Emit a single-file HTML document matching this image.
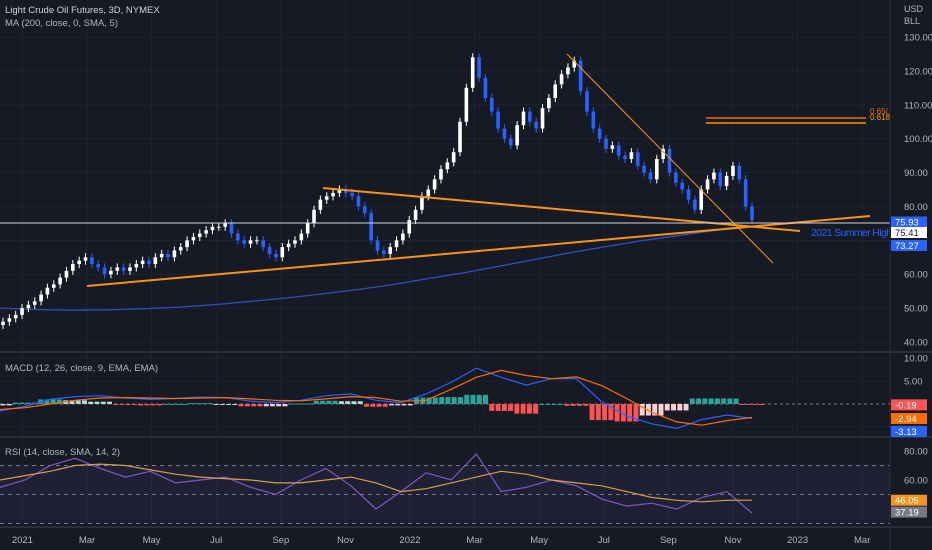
<!DOCTYPE html>
<html><head><meta charset="utf-8">
<style>
html,body{margin:0;padding:0;background:#161a25;}
svg{display:block;font-family:"Liberation Sans",sans-serif;}
</style></head>
<body>
<svg id="c" width="932" height="550" xmlns="http://www.w3.org/2000/svg">
<rect x="0" y="0" width="932" height="550" fill="#161a25"/>
<g id="grid"></g>
<g id="main"></g>
<g id="macd"></g>
<g id="rsi"></g>
<g id="axes"></g>
</svg>
<script>
const closes=[46,47,48,50,51,52,54,56,57,59,
61,63,64,65,63,62,60,61,62,61,
62,63,64,63,65,66,65,67,68,70,
71,72,73,74,74,75,72,70,69,70,
70,68,66,65,68,69,70,72,75,79,
82,83,84,85,84,83,80,78,70,67,
66,68,70,72,76,79,83,85,88,91,
93,96,105,115,124,118,112,108,103,100,
98,104,108,105,103,109,112,116,119,121,
123,114,108,103,100,97,98,95,94,96,
92,90,88,94,97,90,87,85,82,79,
85,88,90,86,89,92,88,80,75.9];
const maVals=[50,49.6,49.4,49.5,49.8,50.3,51,52,53,54.2,55.5,57,58.8,60.5,62.5,64.5,66.5,68.3,70,71.5,73,74];
const macdVals=[-1.5,-0.5,1.0,1.6,1.8,1.3,1.0,1.2,1.5,1.4,0.6,0.3,0.8,1.8,2.2,0.8,0.3,2.2,4.7,7.8,5.8,4.1,5.5,5.5,0.5,-2.6,-4.3,-5.3,-3.4,-2.4,-3.13];
const signalVals=[-1.2,-0.8,0,0.8,1.3,1.4,1.3,1.2,1.3,1.4,1.1,0.8,0.7,1.1,1.6,1.4,0.6,0.8,3.2,5.8,7.3,6.2,5.5,5.9,4.0,1.2,-1.8,-3.9,-4.6,-3.6,-2.94];
const rsiVals=[55,60,70,75,68,62,66,58,60,62,55,50,60,68,56,40,52,65,60,78,52,55,60,56,47,42,44,40,48,52,37.19];
const rsiMaVals=[60,63,66,70,71,70,67,64,62,61,60,58,58,60,62,58,52,54,58,62,66,64,60,58,56,52,48,46,45,46,46.05];
const priceTicks=[130,120,110,100,90,80,60,50,40];
const macdTicks=[10,5];
const rsiTicks=[80,60];
const timeLabels=["2021","Mar","May","Jul","Sep","Nov","2022","Mar","May","Jul","Sep","Nov","2023","Mar"];
const timeMonths=[0,2,4,6,8,10,12,14,16,18,20,22,24,26];

const NS="http://www.w3.org/2000/svg";
function mk(tag,attrs,parent,txt){const e=document.createElementNS(NS,tag);for(const k in attrs)e.setAttribute(k,attrs[k]);if(txt!==undefined)e.textContent=txt;parent.appendChild(e);return e;}
const G=id=>document.getElementById(id);
const PLOT_R=890;
const py=p=>37+(130-p)*3.389;
const cx=i=>3+i*(749/(closes.length-1));
const sx=(i,n)=>i*(752/(n-1));
const my=v=>404-v*4.6;
const ry=v=>451+(80-v)*1.45;
const tx=m=>87+(m-2)*32.3;

// grid
const grid=G('grid');
timeMonths.forEach(m=>{const l=mk('line',{x1:tx(m),x2:tx(m),y1:0,y2:527,stroke:'#1f2330','stroke-width':1},grid);
});
priceTicks.concat([70]).forEach(p=>{const l=mk('line',{x1:0,x2:PLOT_R,y1:py(p),y2:py(p),stroke:'#1f2330'},grid);
});
[10,5,-5].forEach(v=>{const l=mk('line',{x1:0,x2:PLOT_R,y1:my(v),y2:my(v),stroke:'#1f2330'},grid);
});

// main pane
const main=G('main');
let d='';maVals.forEach((v,i)=>{d+=(i?'L':'M')+sx(i,maVals.length).toFixed(1)+','+py(v).toFixed(1);});
const ma=mk('path',{d:d,fill:'none',stroke:'#2f4fb8','stroke-width':1.3},main);

closes.forEach((c,i)=>{const o=i?closes[i-1]:c-1;const up=c>=o;const col=up?'#ffffff':'#2962ff';
const g=mk('g',{},main);

const x=cx(i);
mk('line',{x1:x,x2:x,y1:py(Math.max(o,c)+1.2),y2:py(Math.min(o,c)-1.2),stroke:col,'stroke-width':1},g);
const top=py(Math.max(o,c)),h=Math.max(1,py(Math.min(o,c))-top);
mk('rect',{x:x-1.8,y:top,width:3.6,height:h,fill:col},g);});
const dr=[[87,286,870,216],[323,188,800,231],[567,54,773,263]];
dr.forEach(a=>{const l=mk('line',{x1:a[0],y1:a[1],x2:a[2],y2:a[3],stroke:'#f7931a','stroke-width':a[0]===567?1:2},main);
});
const hl=mk('line',{x1:0,x2:PLOT_R,y1:223,y2:223,stroke:'#d1d4dc','stroke-width':1},main);

[[118,'#ef6c00'],[123,'#ff9800']].forEach(f=>{const l=mk('line',{x1:706,x2:866,y1:f[0],y2:f[0],stroke:f[1],'stroke-width':1.5},main);
});
let t=mk('text',{x:870,y:114,fill:'#ef6c00','font-size':8},main,'0.65(106');
t=mk('text',{x:870,y:120,fill:'#ff9800','font-size':8},main,'0.618(10');
t=mk('text',{x:811,y:236,fill:'#2962ff','font-size':10.5,textLength:81},main,'2021 Summer High');
t=mk('text',{x:5,y:13,fill:'#d1d4dc','font-size':9.5},main,'Light Crude Oil Futures, 3D, NYMEX');
t=mk('text',{x:5,y:26,fill:'#b2b5be','font-size':9.5},main,'MA (200, close, 0, SMA, 5)');

// MACD pane
const mg=G('macd');
let z=mk('line',{x1:0,x2:PLOT_R,y1:my(0),y2:my(0),stroke:'#787b86','stroke-dasharray':'3,3'},mg);

macdVals.forEach((v,i)=>{const h=v-signalVals[i];const prev=i?macdVals[i-1]-signalVals[i-1]:h;
const col=h>=0?(h>=prev?'#26a69a':'#b2dfdb'):(h<prev?'#ff5252':'#ffcdd2');
const w=752/30;const x0=sx(i,macdVals.length)-w/2;
for(let k=0;k<4;k++){const y0=my(Math.max(h,0)),y1=my(Math.min(h,0));
const r=mk('rect',{x:x0+k*w/4+0.5,y:y0,width:w/4-1.3,height:Math.max(1,y1-y0),fill:col},mg);
}});
[[macdVals,'#2962ff','macd-line'],[signalVals,'#ff6d00','signal-line']].forEach(s=>{let d='';s[0].forEach((v,i)=>{d+=(i?'L':'M')+sx(i,s[0].length).toFixed(1)+','+my(v).toFixed(1);});
const p=mk('path',{d:d,fill:'none',stroke:s[1],'stroke-width':1.2},mg);
});
t=mk('text',{x:5,y:371,fill:'#b2b5be','font-size':9.5},mg,'MACD (12, 26, close, 9, EMA, EMA)');

// RSI pane
const rg=G('rsi');
let band=mk('rect',{x:0,y:ry(70),width:PLOT_R,height:ry(30)-ry(70),fill:'rgba(126,87,194,0.1)'},rg);

[70,50,30].forEach(v=>{const l=mk('line',{x1:0,x2:PLOT_R,y1:ry(v),y2:ry(v),stroke:'#787b86','stroke-dasharray':'4,4'},rg);
});
[[rsiVals,'#7e57c2','rsi-line'],[rsiMaVals,'#d4a04a','rsi-ma-line']].forEach(s=>{let d='';s[0].forEach((v,i)=>{d+=(i?'L':'M')+sx(i,s[0].length).toFixed(1)+','+ry(v).toFixed(1);});
const p=mk('path',{d:d,fill:'none',stroke:s[1],'stroke-width':1.2},rg);
});
t=mk('text',{x:5,y:455,fill:'#b2b5be','font-size':9.5},rg,'RSI (14, close, SMA, 14, 2)');

// axes
const ax=G('axes');
let axbg=mk('rect',{x:PLOT_R,y:0,width:42,height:550,fill:'#161a25'},ax);
[[352],[437],[527]].forEach(a=>{const l=mk('line',{x1:0,x2:932,y1:a[0],y2:a[0],stroke:'#2a2e39','stroke-width':2},ax);
});
let l=mk('line',{x1:PLOT_R,x2:PLOT_R,y1:0,y2:550,stroke:'#2a2e39'},ax);
t=mk('text',{x:904,y:12,fill:'#b2b5be','font-size':9},ax,'USD');
t=mk('text',{x:904,y:24,fill:'#b2b5be','font-size':9},ax,'BLL');
priceTicks.forEach(p=>{const e=mk('text',{x:904,y:py(p)+3.5,fill:'#b2b5be','font-size':9.5},ax,p.toFixed(2));
});
macdTicks.forEach(v=>{const e=mk('text',{x:904,y:my(v)+3.5,fill:'#b2b5be','font-size':9.5},ax,v.toFixed(2));
});
rsiTicks.forEach(v=>{const e=mk('text',{x:904,y:ry(v)+3.5,fill:'#b2b5be','font-size':9.5},ax,v.toFixed(2));
});
timeLabels.forEach((s,i)=>{const e=mk('text',{x:Math.max(12,tx(timeMonths[i])),y:543,fill:'#b2b5be','font-size':9.5,'text-anchor':'middle'},ax,s);
});
function badge(y,txt,bg,fg,name){const g=mk('g',{},ax);

mk('rect',{x:891,y:y-5.5,width:36,height:11,fill:bg},g);mk('text',{x:895,y:y+3.5,fill:fg,'font-size':9.5},g,txt);}
badge(222,'75.93','#2962ff','#fff','last-price-badge');
badge(232.5,'75.41','#ffffff','#131722','line-price-badge');
badge(245.5,'73.27','#2962ff','#fff','ma-price-badge');
badge(my(-0.19),'-0.19','#ff5252','#fff','histogram-value-badge');
badge(my(-2.94)+1,'-2.94','#ff6d00','#fff','signal-value-badge');
badge(my(-3.13)+13,'-3.13','#2962ff','#fff','macd-value-badge');
badge(ry(46.05),'46.05','#f7931a','#fff','rsi-ma-badge');
badge(ry(37.19)-1,'37.19','#787b86','#fff','rsi-value-badge');
</script>
</body></html>
